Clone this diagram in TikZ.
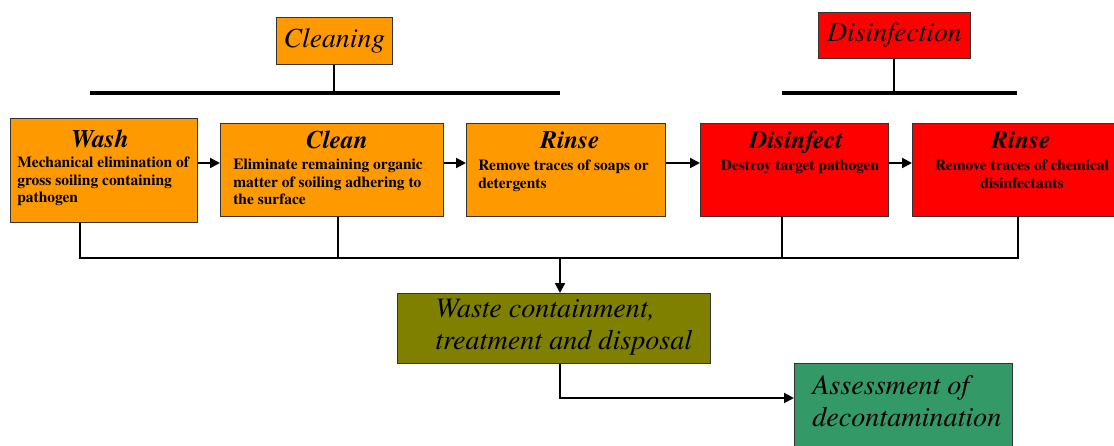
\documentclass[tikz,border=0pt]{standalone}
\usepackage{fontspec}
\setmainfont{texgyretermes}[Extension=.otf, UprightFont=*-regular, BoldFont=*-bold, ItalicFont=*-italic, BoldItalicFont=*-bolditalic]
\usetikzlibrary{arrows.meta}

\definecolor{stageorange}{HTML}{FF9900}
\definecolor{stagered}{HTML}{FF0000}
\definecolor{wasteolive}{HTML}{808000}
\definecolor{assessgreen}{HTML}{339966}

\begin{document}
\begin{tikzpicture}[x=0.025cm, y=-0.025cm,
  box/.style={draw=black!80, line width=0.6pt, anchor=north west, inner sep=0pt},
  headtext/.style={font=\fontsize{19.7}{22}\selectfont\itshape},
  titletext/.style={font=\fontsize{18}{22}\selectfont\bfseries\itshape, inner sep=0pt, anchor=base},
  bodytext/.style={font=\fontsize{11}{12.2}\selectfont\bfseries, inner sep=0pt},
  bigtext/.style={font=\fontsize{20}{22.7}\selectfont\itshape, inner sep=0pt, anchor=north west, align=left},
  bar/.style={line width=3.5pt},
  link/.style={line width=1.4pt},
  arrow/.style={line width=1.4pt, -{Triangle[length=7pt, width=7pt]}}]

\useasboundingbox (0,0) rectangle (1114,446);

% group headers
\node[box, fill=stageorange, minimum width=2.9cm, minimum height=1.175cm, headtext] (cleaning) at (276,17) {Cleaning};
\node[box, fill=stagered, minimum width=3.8cm, minimum height=1.15cm, headtext] (disinfection) at (818,12) {Disinfection};

% bars under the headers
\coordinate (cleaning bar west) at (90,93);
\coordinate (cleaning bar east) at (560,93);
\coordinate (disinfection bar west) at (782,93);
\coordinate (disinfection bar east) at (1017,93);
\draw[bar] (cleaning bar west) -- (cleaning bar east);
\draw[bar] (disinfection bar west) -- (disinfection bar east);
\draw[link] (cleaning.south) -- (cleaning.south |- cleaning bar west);
\draw[link] (disinfection.south) -- (disinfection.south |- disinfection bar west);

% steps
\node[box, fill=stageorange, minimum width=4.675cm, minimum height=2.6cm] (wash) at (10,118) {};
\node[titletext] (wash title) at (100,148) {Wash};
\node[bodytext, anchor=north west, align=left] (wash text) at (17,157)
  {Mechanical elimination of\\gross soiling containing\\pathogen};

\node[box, fill=stageorange, minimum width=5.575cm, minimum height=2.325cm] (clean) at (220,123) {};
\node[titletext] (clean title) at (337,149) {Clean};
\node[bodytext, anchor=north west, align=left] (clean text) at (233,159)
  {Eliminate remaining organic\\matter of soiling adhering to\\the surface};

\node[box, fill=stageorange, minimum width=4.975cm, minimum height=2.325cm] (rinse) at (466,123) {};
\node[titletext] (rinse title) at (570,149) {Rinse};
\node[bodytext, anchor=north west, align=left] (rinse text) at (478,160)
  {Remove traces of soaps or\\detergents};

\node[box, fill=stagered, minimum width=4.7cm, minimum height=2.325cm] (disinfect) at (700,123) {};
\node[titletext] (disinfect title) at (796,149) {Disinfect};
\node[bodytext, anchor=north, align=center] (disinfect text) at (800,160)
  {Destroy target pathogen};

\node[box, fill=stagered, minimum width=5.25cm, minimum height=2.325cm] (rinse chem) at (912,123) {};
\node[titletext] (rinse chem title) at (1021,149) {Rinse};
\node[bodytext, anchor=north, align=center] (rinse chem text) at (1022,160)
  {Remove traces of chemical\\disinfectants};

% arrows between the steps
\coordinate (step row) at (0,163);
\draw[arrow] (wash.east |- step row) -- (clean.west |- step row);
\draw[arrow] (clean.east |- step row) -- (rinse.west |- step row);
\draw[arrow] (rinse.east |- step row) -- (disinfect.west |- step row);
\draw[arrow] (disinfect.east |- step row) -- (rinse chem.west |- step row);

% waste and assessment
\node[box, fill=wasteolive, minimum width=7.825cm, minimum height=1.75cm] (waste) at (397,293) {};
\node[bigtext] (waste text) at (435,299) {Waste containment,\\treatment and disposal};

\node[box, fill=assessgreen, minimum width=5.45cm, minimum height=2.2cm] (assess) at (794,363) {};
\node[bigtext] (assess text) at (812,375) {Assessment of\\decontamination};

% collecting line
\coordinate (bus wash) at (80,258);
\coordinate (bus clean) at (338,258);
\coordinate (bus tap) at (560,258);
\coordinate (bus disinfect) at (782,258);
\coordinate (bus rinse) at (1018,258);
\draw[link] (wash.south -| bus wash) -- (bus wash) -- (bus rinse) -- (rinse chem.south -| bus rinse);
\draw[link] (clean.south -| bus clean) -- (bus clean);
\draw[link] (disinfect.south -| bus disinfect) -- (bus disinfect);
\draw[arrow] (bus tap) -- (waste.north -| bus tap);

\coordinate (elbow) at (560,398);
\draw[arrow] (waste.south -| elbow) -- (elbow) -- (assess.west |- elbow);

\end{tikzpicture}
\end{document}
